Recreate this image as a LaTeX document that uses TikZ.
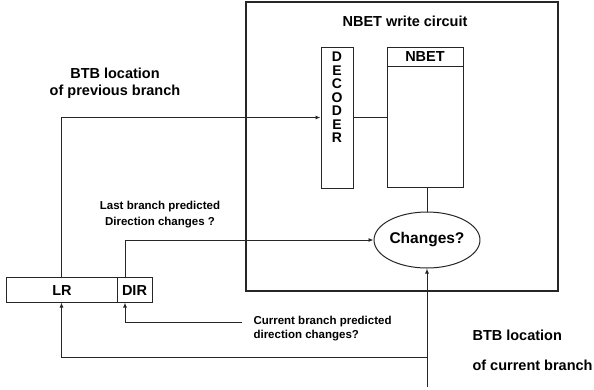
\documentclass[tikz,border=0pt]{standalone}
\usepackage{fontspec}
\setmainfont{Liberation Sans}
\usetikzlibrary{shapes.geometric,arrows.meta}
\tikzset{
  wire/.style={line width=0.9pt, draw=black!85},
  arr/.style={wire, -{Latex[length=5pt,width=4pt]}},
  box/.style={draw=black!85, line width=1pt, inner sep=0pt},
  big/.style={font=\bfseries\fontsize{14.5}{16}\selectfont},
  small/.style={font=\bfseries\fontsize{11.5}{13}\selectfont},
}
\begin{document}
\begin{tikzpicture}[x=1pt,y=-1pt]
\useasboundingbox (0,0) rectangle (594,389);

% write circuit enclosure
\node[box, line width=1.4pt, minimum width=312pt, minimum height=289pt] (circuit) at (402,146.5) {};
\node[big] (title) at (405,21) {NBET write circuit};

% decoder
\node[box, minimum width=32pt, minimum height=141pt] (dec) at (337,117.5) {};
\node[align=center, font=\bfseries\fontsize{14}{13.5}\selectfont] (declab) at (337,97.5) {D\\E\\C\\O\\D\\E\\R};

% NBET table
\node[box, minimum width=76pt, minimum height=140pt] (nbet) at (425,117) {};
\draw[box] (nbet.north west) ++(0,20) -- ++(76,0) coordinate (hdr);
\node[big] (nbetlab) at (425,57) {NBET};

% comparison
\node[ellipse, draw=black!85, line width=1pt, minimum width=81pt, minimum height=56pt, inner sep=0pt, font=\bfseries\fontsize{15.5}{17}\selectfont] (chg) at (427,240) {Changes?};

% LR / DIR registers
\node[box, minimum width=111pt, minimum height=25pt] (LR) at (61.5,289.5) {};
\node[big] (lrlab) at (62,291) {LR};
\node[box, minimum width=35pt, minimum height=25pt] (DIR) at (134.5,289.5) {};
\node[big] (dirlab) at (134.5,291) {DIR};

% labels
\node[big] (prev) at (115,73) {BTB location};
\node[big] (prev2) at (115,92) {of previous branch};
\node[small] (last) at (160,207) {Last branch predicted};
\node[small] (last2) at (160,223) {Direction changes ?};
\node[small, anchor=west] (cur) at (250,322) {Current branch predicted};
\node[small, anchor=west] (cur2) at (250,336) {direction changes?};
\node[big, anchor=west] (btbc) at (469,335) {BTB location};
\node[big, anchor=west] (btbc2) at (469,365) {of current branch};

% helper points
\coordinate (dirx) at (125,0);
\coordinate (curend) at (242,322);
\coordinate (btbin) at (427,387);
\coordinate (tap) at (427,357);

% connectors
\draw[arr] (LR.north) -- (LR.north |- dec.west) -- (dec.west);
\draw[wire] (dec.east) -- (dec.east -| nbet.west);
\draw[wire] (nbet.south -| chg.north) -- (chg.north);
\draw[arr] (DIR.north -| dirx) -- (dirx |- chg.west) -- (chg.west);
\draw[arr] (curend) -- (curend -| dirx) -- (DIR.south -| dirx);
\draw[arr] (btbin) -- (chg.south);
\draw[arr] (tap) -- (tap -| LR.south) -- (LR.south);
\end{tikzpicture}
\end{document}
